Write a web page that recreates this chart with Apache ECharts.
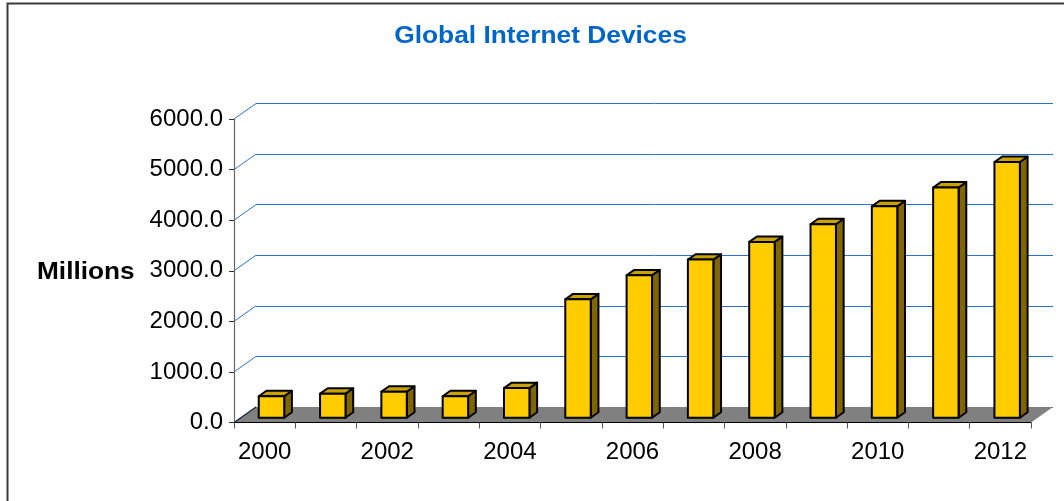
<!DOCTYPE html>
<html>
<head>
<meta charset="utf-8">
<script src="https://cdn.jsdelivr.net/npm/echarts@6/dist/echarts.min.js"></script>
<style>
  html, body { margin: 0; padding: 0; background: #fff; }
  #chart { width: 1064px; height: 501px; }
</style>
</head>
<body>
<div id="chart"></div>
<script>
// Global internet devices, millions
const years = ['2000','2001','2002','2003','2004','2005','2006','2007','2008','2009','2010','2011','2012'];
const devices = [425, 475, 515, 425, 585, 2340, 2815, 3125, 3475, 3825, 4180, 4550, 5055];
const yTicks = [1000, 2000, 3000, 4000, 5000, 6000];

// depth of the 3D box (back wall offset from the front plane)
const DX = 22, DY = -15.5;
// bar placement inside the depth and across the category band
const F0 = 0.31, F1 = 0.66, BAR_W = 0.415;

const FONT = '"Liberation Sans", Arial, sans-serif';

const chart = echarts.init(document.getElementById('chart'));

function floorItem(params, api) {
  const cs = params.coordSys;
  const yb = cs.y + cs.height;
  return {
    type: 'group',
    children: [
      {
        type: 'polygon',
        shape: { points: [[cs.x, yb], [cs.x + cs.width, yb], [cs.x + cs.width + DX, yb + DY], [cs.x + DX, yb + DY]] },
        style: { fill: '#808080', stroke: null }
      },
      {
        type: 'line',
        shape: { x1: cs.x, y1: yb, x2: cs.x + DX, y2: yb + DY },
        style: { stroke: '#14233a', lineWidth: 1.2 }
      }
    ]
  };
}

function connectorItem(params, api) {
  const cs = params.coordSys;
  const p = api.coord([0, api.value(1)]);
  return {
    type: 'line',
    shape: { x1: cs.x, y1: p[1], x2: cs.x + DX, y2: p[1] + DY },
    style: { stroke: '#2a72d4', lineWidth: 1 }
  };
}

function barItem(params, api) {
  const i = api.value(0);
  const base = api.coord([i, 0]);
  const top = api.coord([i, api.value(1)]);
  const band = api.size([1, 0])[0];
  const w = band * BAR_W;
  const x0 = base[0] - w / 2 + F0 * DX;
  const x1 = x0 + w;
  const yb = base[1] + F0 * DY;
  const yt = top[1] + F0 * DY;
  const ddx = (F1 - F0) * DX, ddy = (F1 - F0) * DY;
  const edge = { stroke: '#000', lineWidth: 2, lineJoin: 'round' };
  return {
    type: 'group',
    children: [
      { type: 'polygon', shape: { points: [[x1, yt], [x1 + ddx, yt + ddy], [x1 + ddx, yb + ddy], [x1, yb]] },
        style: Object.assign({ fill: '#806600' }, edge) },
      { type: 'polygon', shape: { points: [[x0, yt], [x1, yt], [x1 + ddx, yt + ddy], [x0 + ddx, yt + ddy]] },
        style: Object.assign({ fill: '#c9a100' }, edge) },
      { type: 'rect', shape: { x: x0, y: yt, width: w, height: yb - yt },
        style: Object.assign({ fill: '#ffcc00' }, edge) }
    ]
  };
}

chart.setOption({
  backgroundColor: '#fff',
  animation: false,
  graphic: [
    {
      type: 'rect',
      shape: { x: 7.5, y: 3.5, width: 1200, height: 700 },
      style: { fill: null, stroke: '#3a3a3a', lineWidth: 2 },
      silent: true
    },
    {
      // chart title
      type: 'text',
      x: 540.5, y: 37, scaleX: 1.12,
      style: {
        text: 'Global Internet Devices', fill: '#0066cc',
        font: 'bold 23.5px ' + FONT, textAlign: 'center', textVerticalAlign: 'middle'
      }
    },
    {
      // value axis title
      type: 'text',
      x: 37, y: 273, scaleX: 1.14,
      style: {
        text: 'Millions', fill: '#000',
        font: 'bold 23px ' + FONT, textAlign: 'left', textVerticalAlign: 'middle'
      }
    }
  ],
  grid: [
    { left: 234, right: 33, top: 119, bottom: 78.5 },
    { left: 234 + DX, right: 33 - DX, top: 119 + DY, bottom: 78.5 - DY }
  ],
  xAxis: [
    {
      type: 'category', gridIndex: 0, data: years, z: 10,
      axisLine: { lineStyle: { color: '#000', width: 1.2 } },
      axisTick: { show: true, interval: 0, length: 6, lineStyle: { color: '#555' } },
      axisLabel: { interval: 1, margin: 18, color: '#000', fontSize: 24, fontFamily: FONT }
    },
    {
      type: 'category', gridIndex: 1, data: years,
      axisLine: { show: false }, axisTick: { show: false }, axisLabel: { show: false }
    }
  ],
  yAxis: [
    {
      type: 'value', gridIndex: 0, min: 0, max: 6000, interval: 1000, z: 10,
      axisLine: { show: true, lineStyle: { color: '#666', width: 1.2 } },
      axisTick: { show: true, length: 5, lineStyle: { color: '#333' } },
      splitLine: { show: false },
      axisLabel: {
        margin: 11, color: '#000', fontSize: 24, fontFamily: FONT,
        padding: [4, 0, 0, 0],
        formatter: v => v.toFixed(1)
      }
    },
    {
      type: 'value', gridIndex: 1, min: 0, max: 6000, interval: 1000,
      axisLine: { show: false }, axisTick: { show: false }, axisLabel: { show: false },
      splitLine: { show: true, lineStyle: { color: '#2a72d4', width: 1 } }
    }
  ],
  series: [
    {
      type: 'custom', name: 'floor', xAxisIndex: 0, yAxisIndex: 0, z: 1,
      renderItem: floorItem, data: [[0, 0]], silent: true
    },
    {
      type: 'custom', name: 'connectors', xAxisIndex: 0, yAxisIndex: 0, z: 1,
      renderItem: connectorItem, data: yTicks.map(v => [0, v]), silent: true
    },
    {
      type: 'custom', name: 'Devices', xAxisIndex: 0, yAxisIndex: 0, z: 3,
      renderItem: barItem,
      encode: { x: 0, y: 1 },
      data: devices.map((v, i) => [i, v])
    }
  ]
});
</script>
</body>
</html>
